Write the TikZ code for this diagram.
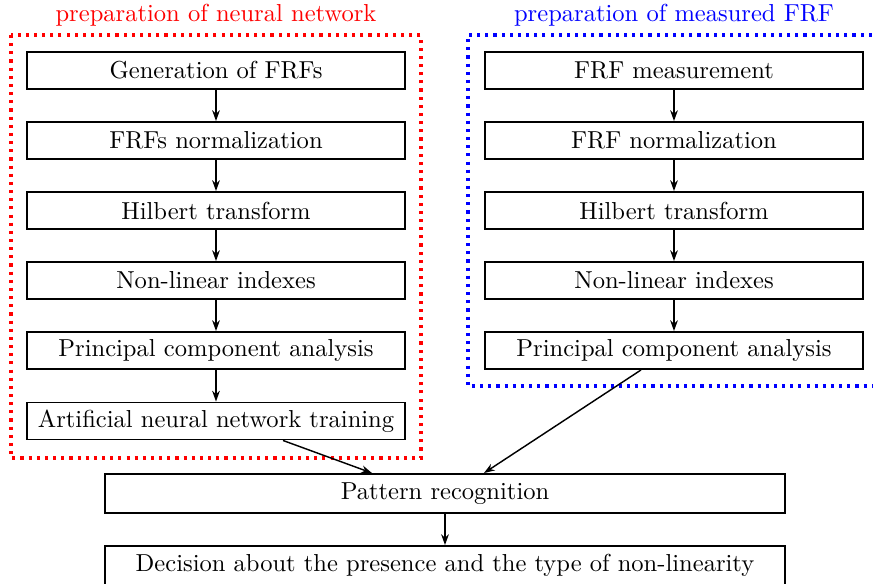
\documentclass[tikz,border=0pt]{standalone}
\usetikzlibrary{arrows.meta,calc}
\begin{document}
\begin{tikzpicture}[x=0.4167pt,y=-0.4167pt,
  every node/.style={font=\fontsize{10.23pt}{12pt}\selectfont},
  stepbox/.style={draw,line width=0.8pt,minimum width=378*0.4167pt,minimum height=37*0.4167pt,inner sep=0pt},
  widebox/.style={draw,line width=0.8pt,minimum width=680*0.4167pt,minimum height=39*0.4167pt,inner sep=0pt},
  conn/.style={-{Stealth[length=4.5pt,width=3.2pt]},line width=0.6pt},
  dotbox/.style={line width=1.3pt,dash pattern=on 1.3pt off 2.1pt}]
\useasboundingbox (0,0) rectangle (873,583);
\clip (0,0) rectangle (873,583);
% titles
\node[text=red] (tl) at (216,15) {preparation of neural network};
\node[text=blue] (tr) at (674,15) {preparation of measured FRF};
% dotted frames
\draw[dotbox,red] (11,35) rectangle (421,458);
\draw[dotbox,blue] (880,35) -- (468,35) -- (468,386) -- (880,386);
% left column
\node[stepbox] (l1) at (216,70.5) {Generation of FRFs};
\node[stepbox] (l2) at (216,140.5) {FRFs normalization};
\node[stepbox] (l3) at (216,210.5) {Hilbert transform};
\node[stepbox] (l4) at (216,280.5) {Non-linear indexes};
\node[stepbox] (l5) at (216,350.5) {Principal component analysis};
\node[stepbox] (l6) at (216,421) {Artificial neural network training};
% right column
\node[stepbox] (r1) at (674,70.5) {FRF measurement};
\node[stepbox] (r2) at (674,140.5) {FRF normalization};
\node[stepbox] (r3) at (674,210.5) {Hilbert transform};
\node[stepbox] (r4) at (674,280.5) {Non-linear indexes};
\node[stepbox] (r5) at (674,350.5) {Principal component analysis};
% bottom
\node[widebox] (pr) at (445,493.5) {Pattern recognition};
\node[widebox] (dec) at (445,565.5) {Decision about the presence and the type of non-linearity};
% connectors
\foreach \a/\b in {l1/l2,l2/l3,l3/l4,l4/l5,l5/l6,r1/r2,r2/r3,r3/r4,r4/r5}
  \draw[conn] (\a.south) -- (\b.north);
\draw[conn] ([xshift=67*0.4167pt]l6.south) -- ([xshift=-73*0.4167pt]pr.north);
\draw[conn] ([xshift=-33*0.4167pt]r5.south) -- ([xshift=39*0.4167pt]pr.north);
\draw[conn] (pr.south) -- (dec.north);
\end{tikzpicture}
\end{document}
